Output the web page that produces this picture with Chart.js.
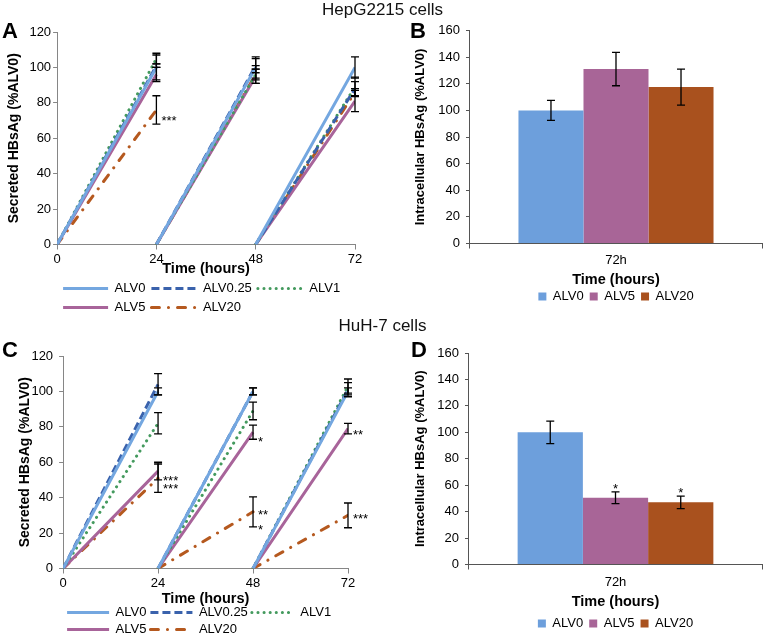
<!DOCTYPE html>
<html>
<head>
<meta charset="utf-8">
<script src="https://cdn.jsdelivr.net/npm/chart.js@4.4.1/dist/chart.umd.min.js"></script>
<style>
  body { margin: 0; width: 765px; height: 636px; background: #fff; position: relative; overflow: hidden;
         font-family: 'Liberation Sans', Arial, sans-serif; }
  canvas { position: absolute; }
  .title { position: absolute; left: 0; width: 765px; text-align: center; font-size: 17px; line-height: 20px; color: #111; }
  .letter { position: absolute; font-weight: bold; font-size: 22px; line-height: 22px; color: #000; }
</style>
</head>
<body>
<canvas id="chartA" width="380" height="302" style="left:0;top:22px"></canvas>
<canvas id="chartB" width="385" height="295" style="left:380px;top:18px"></canvas>
<canvas id="chartC" width="380" height="308" style="left:0;top:338px"></canvas>
<canvas id="chartD" width="385" height="302" style="left:380px;top:338px"></canvas>
<div class="title" style="top:0px">HepG2215 cells</div>
<div class="title" style="top:316px">HuH-7 cells</div>
<div class="letter" style="left:2px;top:20px">A</div>
<div class="letter" style="left:410px;top:20px">B</div>
<div class="letter" style="left:2px;top:339px">C</div>
<div class="letter" style="left:411px;top:339px">D</div>
<script>
// time points (hours) and series
const timePoints = [24, 48, 72];
const lineNames = ['ALV0', 'ALV0.25', 'ALV1', 'ALV5', 'ALV20'];
const barNames = ['ALV0', 'ALV5', 'ALV20'];
const barLabels = ['72h'];

// HepG2215 secreted HBsAg (%ALV0)
const hepAlv0 = [100, 100, 100];
const hepAlv025 = [101, 101, 88];
const hepAlv1 = [105, 96, 89];
const hepAlv5 = [96, 95, 81];
const hepAlv20 = [76, 96, 86];
const hepErr0 = [7, 6, 6];
const hepErr025 = [1, 4, 4];
const hepErr1 = [3, 5, 5.5];
const hepErr5 = [4, 4, 6];
const hepErr20 = [8, 3, 2];
const hepStars = [[24, 71, '***']];

// HuH-7 secreted HBsAg (%ALV0)
const huhAlv0 = [100, 100, 100];
const huhAlv025 = [104, 100, 101];
const huhAlv1 = [82, 89, 103];
const huhAlv5 = [55, 77, 79];
const huhAlv20 = [51, 32, 30];
const huhErr0 = [2, 2, 2];
const huhErr025 = [6, 2, 4];
const huhErr1 = [6, 5, 4];
const huhErr5 = [5, 4, 3];
const huhErr20 = [8, 8.5, 7];
const huhStars = [[24, 51, '***'], [24, 46.5, '***'], [48, 73, '*'], [48, 31.5, '**'], [48, 23, '*'], [72, 77, '**'], [72, 29.5, '***']];

// intracellular HBsAg at 72h (%ALV0)
const hepBarValues = [100, 131, 117.5];
const hepBarErr = [7.5, 12.5, 13.5];
const hepBarStars = ['', '', ''];
const huhBarValues = [100, 50.5, 47];
const huhBarErr = [8.5, 4.5, 4.75];
const huhBarStars = ['', '*', '*'];

Chart.defaults.font.family = "'Liberation Sans', Arial, sans-serif";
Chart.defaults.color = '#000';

const lineStyles = [
  { color: '#74a7e0', dash: [], cap: 'butt' },
  { color: '#3a62ac', dash: [8, 4], cap: 'butt' },
  { color: '#449a5e', dash: [0.1, 6], cap: 'round' },
  { color: '#a8649a', dash: [], cap: 'butt' },
  { color: '#b5591f', dash: [8, 9, 0.1, 9], cap: 'round' },
];
const barColors = ['#6d9fdc', '#a86597', '#a9511e'];

// each interval starts again from 0
function segments(vals) {
  const pts = [];
  let start = 0;
  vals.forEach((v, i) => {
    pts.push({ x: start, y: 0 }, { x: timePoints[i], y: v });
    if (i < vals.length - 1) pts.push({ x: timePoints[i], y: null });
    start = timePoints[i];
  });
  return pts;
}

const errorBars = {
  id: 'errorBars',
  afterDatasetsDraw(chart, args, opts) {
    const ctx = chart.ctx;
    const xs = chart.scales.x;
    const ys = chart.scales.y;
    ctx.save();
    ctx.strokeStyle = '#000';
    ctx.fillStyle = '#000';
    ctx.lineWidth = 1.3;
    chart.data.datasets.forEach((ds, i) => {
      const meta = chart.getDatasetMeta(i);
      ds.errors.forEach((e, j) => {
        const x = opts.bars ? meta.data[j].x : xs.getPixelForValue(timePoints[j]);
        const v = ds.values[j];
        const top = ys.getPixelForValue(v + e);
        const bot = ys.getPixelForValue(v - e);
        ctx.beginPath();
        ctx.moveTo(x, top); ctx.lineTo(x, bot);
        ctx.moveTo(x - 4, top); ctx.lineTo(x + 4, top);
        ctx.moveTo(x - 4, bot); ctx.lineTo(x + 4, bot);
        ctx.stroke();
        if (opts.bars && ds.star) {
          ctx.font = '13px "Liberation Sans", Arial';
          ctx.textAlign = 'center';
          ctx.textBaseline = 'bottom';
          ctx.fillText(ds.star, x, top + 4);
        }
      });
    });
    (opts.stars || []).forEach((s) => {
      ctx.font = '13px "Liberation Sans", Arial';
      ctx.textAlign = 'left';
      ctx.textBaseline = 'middle';
      ctx.fillText(s[2], xs.getPixelForValue(s[0]) + 5, ys.getPixelForValue(s[1]) + 3);
    });
    ctx.restore();
  },
};

function lineChart(id, series, errs, stars, lay) {
  const datasets = series.map((vals, i) => ({
    label: lineNames[i],
    data: segments(vals),
    values: vals,
    errors: errs[i],
    borderColor: lineStyles[i].color,
    backgroundColor: lineStyles[i].color,
    borderWidth: 3,
    borderDash: lineStyles[i].dash,
    borderCapStyle: lineStyles[i].cap,
    pointRadius: 0,
    spanGaps: false,
  }));
  return new Chart(document.getElementById(id), {
    type: 'line',
    data: { datasets: datasets },
    options: {
      responsive: false,
      animation: false,
      layout: { padding: lay.padding },
      scales: {
        x: {
          type: 'linear', min: 0, max: 72,
          ticks: { stepSize: 24, padding: 3, font: { size: 13, lineHeight: 1 } },
          grid: { drawOnChartArea: false, tickLength: 5, color: '#868686' },
          border: { color: '#868686' },
          title: { display: true, text: 'Time (hours)', font: { size: 14.5, weight: 'bold' }, padding: lay.xTitle },
        },
        y: {
          min: 0, max: 120,
          ticks: { stepSize: 20, padding: lay.yTickPad, font: { size: 13, lineHeight: 1 } },
          grid: { drawOnChartArea: false, tickLength: 4, color: '#868686' },
          border: { color: '#868686' },
          title: { display: true, text: 'Secreted HBsAg (%ALV0)', font: { size: 14, weight: 'bold' }, padding: lay.yTitle },
        },
      },
      plugins: {
        tooltip: { enabled: false },
        errorBars: { bars: false, stars: stars },
        legend: {
          position: 'bottom', align: 'start', fullSize: false,
          labels: {
            usePointStyle: true, pointStyleWidth: lay.legendLine, padding: lay.legendPad,
            font: { size: 13 },
            generateLabels: (chart) => chart.data.datasets.map((ds, i) => ({
              text: ds.label, datasetIndex: i, pointStyle: 'line',
              strokeStyle: ds.borderColor, fillStyle: ds.borderColor, lineWidth: 3,
              lineDash: ds.borderDash, lineCap: ds.borderCapStyle, fontColor: '#000',
            })),
          },
        },
      },
    },
    plugins: [errorBars],
  });
}

function barChart(id, values, errs, stars, lay) {
  const datasets = barNames.map((name, i) => ({
    label: name,
    data: [values[i]],
    values: [values[i]],
    errors: [errs[i]],
    star: stars[i],
    backgroundColor: barColors[i],
    barPercentage: 1,
    categoryPercentage: 0.668,
  }));
  return new Chart(document.getElementById(id), {
    type: 'bar',
    data: { labels: barLabels, datasets: datasets },
    options: {
      responsive: false,
      animation: false,
      layout: { padding: lay.padding },
      scales: {
        x: {
          ticks: { padding: lay.xTickPad, font: { size: 13, lineHeight: 1 } },
          grid: { drawOnChartArea: false, tickLength: 5, color: '#555' },
          border: { color: '#555' },
          title: { display: true, text: 'Time (hours)', font: { size: 14.5, weight: 'bold' }, padding: lay.xTitle },
        },
        y: {
          min: 0, max: 160,
          ticks: { stepSize: 20, padding: 6, font: { size: 13, lineHeight: 1 } },
          grid: { drawOnChartArea: false, tickLength: 4, color: '#555' },
          border: { color: '#555' },
          title: { display: true, text: 'Intracellular HBsAg (%ALV0)', font: { size: 13, weight: 'bold' }, padding: lay.yTitle },
        },
      },
      plugins: {
        tooltip: { enabled: false },
        errorBars: { bars: true },
        legend: {
          position: 'bottom', align: 'center', fullSize: false,
          labels: { boxWidth: 8, boxHeight: 8, padding: 6, font: { size: 13 } },
        },
      },
    },
    plugins: [errorBars],
  });
}

lineChart('chartA',
  [hepAlv0, hepAlv025, hepAlv1, hepAlv5, hepAlv20],
  [hepErr0, hepErr025, hepErr1, hepErr5, hepErr20],
  hepStars,
  {
    padding: { left: 2, right: 25, top: 10, bottom: 0 },
    xTitle: { top: -8.7, bottom: -1.2 },
    yTitle: { top: 3.6, bottom: 5 },
    yTickPad: 2,
    legendLine: 45,
    legendPad: 6,
  });

lineChart('chartC',
  [huhAlv0, huhAlv025, huhAlv1, huhAlv5, huhAlv20],
  [huhErr0, huhErr025, huhErr1, huhErr5, huhErr20],
  huhStars,
  {
    padding: { left: 2, right: 32, top: 18, bottom: 0 },
    xTitle: { top: -2.7, bottom: -5.2 },
    yTitle: { top: 14.6, bottom: -8 },
    yTickPad: 6,
    legendLine: 42,
    legendPad: 4,
  });

barChart('chartB', hepBarValues, hepBarErr, hepBarStars, {
  padding: { left: 30, right: 3, top: 12, bottom: 0 },
  xTickPad: 5,
  xTitle: { top: -0.7, bottom: -4.2 },
  yTitle: { top: 3, bottom: 3.7 },
});

barChart('chartD', huhBarValues, huhBarErr, huhBarStars, {
  padding: { left: 30, right: 3, top: 15, bottom: 0 },
  xTickPad: 6,
  xTitle: { top: -1.7, bottom: 0.8 },
  yTitle: { top: 3, bottom: 2.7 },
});
</script>
</body>
</html>
